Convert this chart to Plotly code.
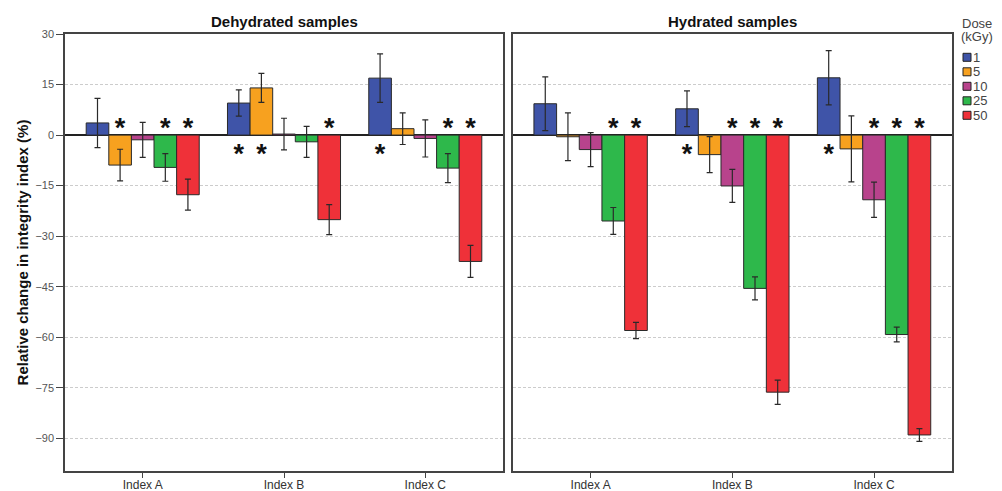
import plotly.graph_objects as go

categories = ["Index A", "Index B", "Index C"]
doses = ["1", "5", "10", "25", "50"]
colors = ["#3F54A8", "#F7A11F", "#B8438C", "#2EB84B", "#EF3139"]

# values per dose (rows) across categories A, B, C (columns)
dehydrated_mean = [
    [3.6, 9.5, 16.9],
    [-8.9, 14.0, 1.9],
    [-1.4, 0.3, -1.0],
    [-9.6, -2.0, -9.8],
    [-17.7, -25.1, -37.5],
]
dehydrated_err = [
    [7.3, 3.9, 7.2],
    [4.7, 4.3, 4.7],
    [5.2, 4.7, 5.5],
    [4.1, 4.6, 4.3],
    [4.6, 4.45, 4.75],
]
dehydrated_sig = [
    [0, 1, 1],
    [1, 1, 0],
    [0, 0, 0],
    [1, 0, 1],
    [1, 1, 1],
]
hydrated_mean = [
    [9.3, 7.8, 17.0],
    [-0.5, -5.8, -4.1],
    [-4.3, -15.1, -19.2],
    [-25.5, -45.5, -59.2],
    [-58.0, -76.3, -89.0],
]
hydrated_err = [
    [8.0, 5.3, 8.05],
    [7.1, 5.35, 9.8],
    [5.05, 4.9, 5.25],
    [4.0, 3.4, 2.2],
    [2.4, 3.6, 1.9],
]
hydrated_sig = [
    [0, 1, 1],
    [0, 0, 0],
    [0, 1, 1],
    [1, 1, 1],
    [1, 1, 1],
]
panel_titles = ["Dehydrated samples", "Hydrated samples"]
legend_title = ["Dose", "(kGy)"]
y_ticks = [30, 15, 0, -15, -30, -45, -60, -75, -90]

FONT = "Liberation Sans, Arial, sans-serif"
STAR_ABOVE = 1.4   # asterisk text position (data units) above zero line
STAR_BELOW = -6.2  # below zero line

# page body has an 8px default margin; offsets compensate for it
M_L, M_R, M_T, M_B = 57, 58, 26, 28
W, H = 1002, 491
PLOT_W = W - M_L - M_R
PLOT_H = H - M_T - M_B

fig = go.Figure()
panels = [
    (dehydrated_mean, dehydrated_err, dehydrated_sig, "x", "y"),
    (hydrated_mean, hydrated_err, hydrated_sig, "x2", "y2"),
]
for p, (means, errs, sigs, xa, ya) in enumerate(panels):
    for k, dose in enumerate(doses):
        fig.add_trace(go.Bar(
            x=categories, y=means[k], name=dose,
            marker=dict(color=colors[k], line=dict(color="#2a2a2a", width=1)),
            error_y=dict(type="data", array=errs[k], visible=True,
                         color="#2a2a2a", thickness=1.2, width=3),
            offsetgroup=dose, showlegend=False,
            xaxis=xa, yaxis=ya, hoverinfo="skip",
        ))
    for k, dose in enumerate(doses):
        ys = [STAR_ABOVE if m < 0 else STAR_BELOW for m in means[k]]
        txt = ["*" if s else "" for s in sigs[k]]
        fig.add_trace(go.Scatter(
            x=categories, y=ys, text=txt, mode="text",
            textposition="middle center",
            textfont=dict(family=FONT, size=27, color="#111111", weight="bold"),
            offsetgroup=dose, showlegend=False, xaxis=xa, yaxis=ya,
            hoverinfo="skip",
        ))

xcommon = dict(
    range=[-0.55, 2.55], showline=True, mirror=True, linecolor="#444444",
    linewidth=1.5, ticks="outside", ticklen=5, tickcolor="#444444",
    tickfont=dict(family=FONT, size=12, color="#333333"),
    ticklabelstandoff=-3,
    showgrid=False, zeroline=False, automargin=False,
)
ycommon = dict(
    range=[-99.7, 30], tickvals=y_ticks, showline=True, mirror=True,
    linecolor="#444444", linewidth=1.5, showgrid=True, gridcolor="#cccccc",
    griddash="3px,2px", gridwidth=1, zeroline=True, zerolinecolor="#222222",
    zerolinewidth=1.5, automargin=False,
)
fig.update_layout(
    width=W, height=H,
    margin=dict(l=M_L, r=M_R, t=M_T, b=M_B, autoexpand=False),
    paper_bgcolor="white", plot_bgcolor="white",
    barmode="group", bargap=0.2, bargroupgap=0,
    scattermode="group", scattergap=0.2,
    font=dict(family=FONT, color="#333333"),
    showlegend=False,
    xaxis=dict(domain=[0, 0.4938], **xcommon),
    xaxis2=dict(domain=[0.5047, 1], anchor="y2", **xcommon),
    yaxis=dict(ticks="outside", ticklen=7, tickcolor="#444444",
               tickfont=dict(family=FONT, size=11, color="#555555"),
               title=dict(text="Relative change in integrity index (%)",
                          font=dict(family=FONT, size=15, color="#111111", weight="bold"),
                          standoff=3),
               **ycommon),
    yaxis2=dict(anchor="x2", matches="y", showticklabels=False, ticks="", **ycommon),
)

# panel titles
for i, t in enumerate(panel_titles):
    dom = fig.layout.xaxis.domain if i == 0 else fig.layout.xaxis2.domain
    fig.add_annotation(
        text=t, x=(dom[0] + dom[1]) / 2, y=1 + 12.8 / PLOT_H, xref="paper", yref="paper",
        xanchor="center", yanchor="middle", showarrow=False,
        font=dict(family=FONT, size=15, color="#111111", weight="bold"),
    )

# dose legend (drawn beside the right panel)
LEG_X = 1.0 + 15 / PLOT_W              # paper x of the swatch centres
LEG_Y0 = 1 - 23.3 / PLOT_H             # first row centre
LEG_STEP = 14.5 / PLOT_H
for j, line in enumerate(legend_title):
    fig.add_annotation(
        text=line, x=LEG_X + 10 / PLOT_W, y=1 + (10.5 - 13.5 * j) / PLOT_H,
        xref="paper", yref="paper", xanchor="center", yanchor="middle",
        showarrow=False, font=dict(family=FONT, size=13, color="#444444"),
    )
for k, dose in enumerate(doses):
    yc = LEG_Y0 - k * LEG_STEP
    fig.add_shape(
        type="rect", xref="paper", yref="paper",
        xsizemode="pixel", ysizemode="pixel",
        xanchor=LEG_X, yanchor=yc, x0=-4, x1=4, y0=-4, y1=4,
        fillcolor=colors[k], line=dict(color="#222222", width=1),
    )
    fig.add_annotation(
        text=dose, x=LEG_X + 3.5 / PLOT_W, y=yc, xref="paper", yref="paper",
        xanchor="left", yanchor="middle", showarrow=False,
        font=dict(family=FONT, size=13, color="#444444"),
    )

fig.write_html("out.html")
